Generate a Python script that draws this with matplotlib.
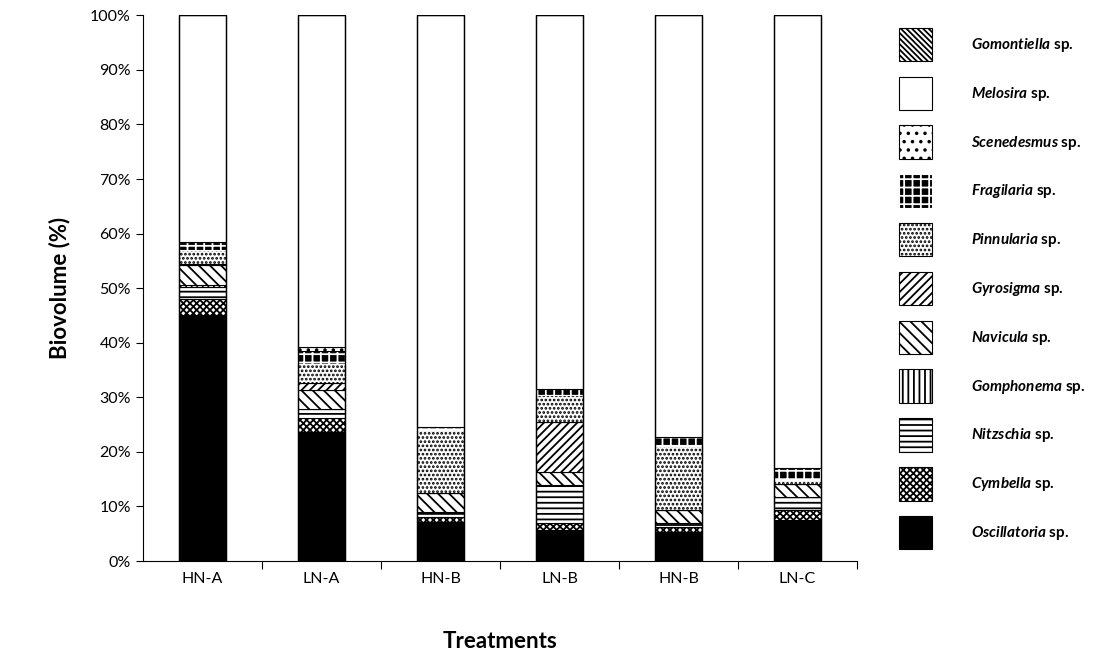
import matplotlib.pyplot as plt
import numpy as np

plt.rcParams['font.family'] = ['Lato', 'DejaVu Sans']
plt.rcParams['hatch.linewidth'] = 1.3
plt.rcParams['mathtext.fontset'] = 'custom'
plt.rcParams['mathtext.bfit'] = 'Lato:italic:bold'
plt.rcParams['mathtext.it'] = 'Lato:italic:bold'

treatments = ['HN-A', 'LN-A', 'HN-B', 'LN-B', 'HN-B', 'LN-C']

# biovolume (%) per taxon, bottom to top of the stack
oscillatoria = [45.0, 23.6, 7.2, 5.7, 5.4, 7.5]
cymbella     = [3.0, 2.7, 0.9, 1.3, 0.9, 1.8]
nitzschia    = [2.3, 1.5, 0.9, 6.9, 0.7, 2.5]
gomphonema   = [0.3, 0.0, 0.0, 0.0, 0.0, 0.0]
navicula     = [3.6, 3.5, 3.5, 2.5, 2.3, 2.4]
gyrosigma    = [0.2, 1.4, 0.0, 9.1, 0.0, 0.0]
pinnularia   = [2.6, 3.4, 11.5, 4.9, 11.8, 0.6]
fragilaria   = [1.5, 2.4, 0.5, 1.1, 1.7, 2.2]
scenedesmus  = [0.0, 0.8, 0.0, 0.0, 0.0, 0.0]
gomontiella  = [0.0, 0.0, 0.0, 0.0, 0.0, 0.0]

taxa = ['Oscillatoria', 'Cymbella', 'Nitzschia', 'Gomphonema', 'Navicula',
        'Gyrosigma', 'Pinnularia', 'Fragilaria', 'Scenedesmus', 'Melosira', 'Gomontiella']

below = np.array([oscillatoria, cymbella, nitzschia, gomphonema, navicula,
                  gyrosigma, pinnularia, fragilaria, scenedesmus])
melosira = 100 - below.sum(axis=0) - np.array(gomontiella)
values = list(below) + [melosira, np.array(gomontiella)]

# (facecolor, edgecolor, hatch)
styles = [('black', 'black', None),
          ('white', 'black', 'xxxxx'),
          ('white', 'black', '---'),
          ('white', 'black', '|||'),
          ('white', 'black', '\\\\\\'),
          ('white', 'black', '////'),
          ('white', 'black', '....'),
          ('black', 'white', '++'),
          ('white', 'black', '..'),
          ('white', 'black', None),
          ('white', 'black', '\\\\\\\\\\\\')]

fig = plt.figure(figsize=(11.16, 6.64), dpi=100)
ax = fig.add_axes([0.128, 0.155, 0.64, 0.822])

x = np.arange(len(treatments))
bottom = np.zeros(len(treatments))
handles = []
for name, v, (fc, ec, h) in zip(taxa, values, styles):
    bars = ax.bar(x, v, 0.4, bottom=bottom, facecolor=fc, edgecolor=ec,
                  hatch=h, linewidth=0.8, label=name)
    handles.append(bars)
    bottom = bottom + v
# outline of each full bar
ax.bar(x, bottom, 0.4, fill=False, edgecolor='black', linewidth=1.0)

ax.set_xlim(-0.5, 5.5)
ax.set_ylim(0, 100)
ax.set_yticks(np.arange(0, 101, 10))
ax.set_yticklabels([f'{t}%' for t in range(0, 101, 10)], fontsize=11.5)
ax.set_xticks(np.arange(0.5, 6, 1))
ax.set_xticklabels([])
ax.set_xticks(x, minor=True)
ax.set_xticklabels(treatments, minor=True, fontsize=11.5)
ax.tick_params(axis='x', which='minor', length=0, pad=8)
ax.tick_params(axis='x', which='major', length=6)
ax.tick_params(axis='y', length=5)
ax.spines['top'].set_visible(False)
ax.spines['right'].set_visible(False)
ax.set_ylabel('Biovolume (%)', fontsize=16, fontweight='bold', labelpad=14)
ax.set_xlabel('Treatments', fontsize=16, fontweight='bold', labelpad=32)

labels = [rf'$\mathit{{{t}}}$ sp.' for t in taxa]
leg = fig.legend(handles[::-1], labels[::-1], loc='upper left',
                 bbox_to_anchor=(0.793, 0.979), frameon=False, fontsize=11,
                 handlelength=2.2, handleheight=3.0, labelspacing=1.0,
                 handletextpad=2.5)
for t in leg.get_texts():
    t.set_fontweight('bold')

fig.savefig('out.png', dpi=100)
